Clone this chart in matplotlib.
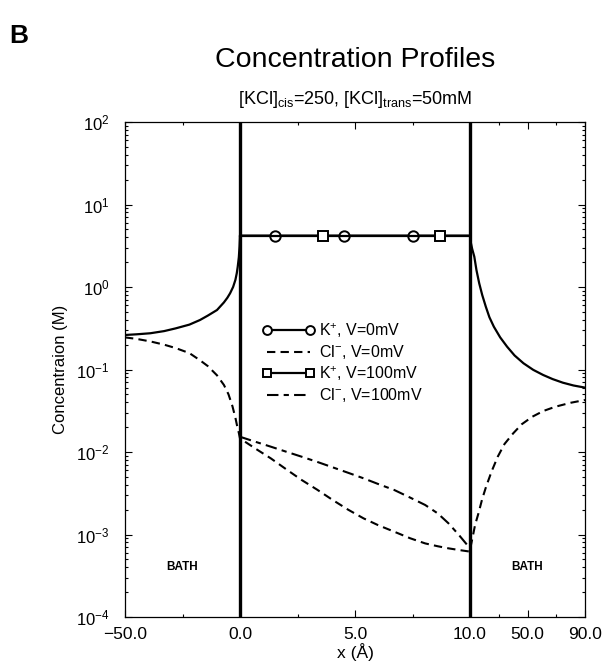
import numpy as np
import matplotlib
matplotlib.use('Agg')
import matplotlib.pyplot as plt
from matplotlib.ticker import FixedLocator, FixedFormatter, LogLocator

plt.rcParams['font.family'] = ['Liberation Sans', 'DejaVu Sans']
plt.rcParams['mathtext.fontset'] = 'custom'
plt.rcParams['mathtext.rm'] = 'Liberation Sans'
plt.rcParams['mathtext.it'] = 'Liberation Sans:italic'
plt.rcParams['mathtext.bf'] = 'Liberation Sans:bold'

# ---- data (x in Angstrom, concentration in M) ----
# K+ (V=0mV): left bath, channel (marker points), right bath
k_left_x = [-50, -45, -39, -33, -28, -22, -17.4, -14, -10, -7, -5.5, -4.3,
            -3, -2, -1.4, -1, -0.5, -0.2, 0]
k_left = [0.262, 0.267, 0.275, 0.292, 0.315, 0.35, 0.398, 0.45, 0.526, 0.65,
          0.74, 0.84, 1.0, 1.22, 1.47, 1.75, 2.3, 3.1, 4.2]
k0_chan_x = [1.5, 4.5, 7.5]
k_chan_level = 4.2
k_right_x = [10, 10.5, 11.5, 13, 14.5, 16.4, 18.5, 21, 23.5, 26.6, 31, 35.8,
             41, 47.2, 54, 60.9, 67.5, 74.6, 82, 90]
k_right = [4.2, 3.5, 2.9, 2.33, 1.6, 1.11, 0.8, 0.577, 0.43, 0.33, 0.245, 0.189,
           0.148, 0.119, 0.099, 0.0858, 0.0765, 0.0692, 0.064, 0.0603]

# K+ (V=100mV) inside channel
k100_x = [0, 3.6, 8.7, 10]

# Cl- (V=0mV)
cl_left_x = [-50, -45, -39, -33, -28, -22, -17.5, -14, -10, -7, -5, -3.3,
             -2, -1.3, -0.5, 0]
cl_left = [0.245, 0.235, 0.219, 0.2, 0.182, 0.158, 0.130, 0.11, 0.085, 0.065,
           0.05, 0.036, 0.026, 0.021, 0.017, 0.0146]
chan_x = [0, 0.67, 1.34, 2, 2.68, 3.35, 4.03, 4.7, 5.37, 6, 6.71, 7.4, 8.05,
          8.6, 9.06, 9.5, 10]
cl0_chan = [0.0146, 0.011, 0.00837, 0.0062, 0.00458, 0.0035, 0.00262, 0.002,
            0.00157, 0.0013, 0.00108, 0.0009, 0.00078, 0.00072, 0.00068,
            0.00065, 0.00062]
cl_right_x = [10, 10.5, 11.9, 13.5, 15.9, 18.5, 21.2, 25, 29.3, 34, 40, 46,
              53.4, 61, 69.4, 80, 90]
cl_right = [0.00062, 0.00072, 0.00094, 0.0013, 0.00181, 0.0027, 0.0038, 0.0058,
            0.00877, 0.0125, 0.0168, 0.0217, 0.0268, 0.0314, 0.0354, 0.0395,
            0.0427]

# Cl- (V=100mV) inside channel
cl100_chan = [0.0153, 0.0133, 0.0116, 0.0101, 0.00877, 0.0076, 0.00652, 0.0056,
              0.0048, 0.0041, 0.00346, 0.0028, 0.00228, 0.0018, 0.00137, 0.001,
              0.00068]

# axis breaks: bath | channel | bath
x_breaks = [-50, 0, 10, 90]
x_frac = [0, 1, 3, 4]
xtick_major = [-50, 0, 5, 10, 50, 90]
xtick_labels = ['\u221250.0', '0.0', '5.0', '10.0', '50.0', '90.0']
xtick_minor = [-25, 2.5, 7.5, 30, 70]


def fwd(x):
    return np.interp(x, x_breaks, x_frac)


def inv(u):
    return np.interp(u, x_frac, x_breaks)


fig = plt.figure(figsize=(6.06, 6.68), dpi=100)
ax = fig.add_axes([125 / 606, 1 - 617 / 668, 460 / 606, 495 / 668])
ax.set_xscale('function', functions=(fwd, inv))
ax.set_yscale('log')

# K+ V=0 : one continuous curve, markers only in the channel
k0_x = k_left_x + k0_chan_x + k_right_x
k0_y = k_left + [k_chan_level] * len(k0_chan_x) + k_right
n_left = len(k_left_x)
k0_line, = ax.plot(k0_x, k0_y, color='black', lw=1.6, marker='o', ms=7.5,
                   mfc='white', mew=1.4,
                   markevery=list(range(n_left, n_left + len(k0_chan_x))),
                   label='K$^{+}$, V=0mV')

k100_line, = ax.plot(k100_x, [k_chan_level] * len(k100_x), color='black', lw=1.6,
                     marker='s', ms=7, mfc='white', mew=1.4, markevery=[1, 2],
                     label='K$^{+}$, V=100mV')

# Cl- V=0 dashed
cl0_x = cl_left_x + chan_x[1:] + cl_right_x[1:]
cl0_y = cl_left + cl0_chan[1:] + cl_right[1:]
cl0_line, = ax.plot(cl0_x, cl0_y, color='black', lw=1.5, dashes=(4, 2.5),
                    label='Cl$^{-}$, V=0mV')

# Cl- V=100 dash-dot
cl100_line, = ax.plot(chan_x, cl100_chan, color='black', lw=1.5,
                      dashes=(5.5, 2.5, 2.5, 2.5), label='Cl$^{-}$, V=100mV')

# channel boundaries
ax.axvline(0, color='black', lw=2.4)
ax.axvline(10, color='black', lw=2.4)

ax.set_xlim(-50, 90)
ax.set_ylim(1e-4, 1e2)

ax.xaxis.set_major_locator(FixedLocator(xtick_major))
ax.xaxis.set_major_formatter(FixedFormatter(xtick_labels))
ax.xaxis.set_minor_locator(FixedLocator(xtick_minor))
ax.yaxis.set_major_locator(LogLocator(base=10, numticks=10))
ax.yaxis.set_minor_locator(LogLocator(base=10, subs=np.arange(2, 10), numticks=10))

ax.tick_params(which='both', direction='in', top=True, right=True, width=0.8)
ax.tick_params(which='major', length=5)
ax.tick_params(which='minor', length=2.5)
ax.tick_params(axis='x', labelsize=12.5, pad=7)
ax.tick_params(axis='y', labelsize=12, pad=11)
for sp in ax.spines.values():
    sp.set_linewidth(0.9)

ax.set_xlabel('x (\u00c5)', fontsize=12.5, labelpad=1)
ax.set_ylabel('Concentraion (M)', fontsize=12, labelpad=6)

ax.text(-25, 10 ** -3.39, 'BATH', ha='center', va='center', fontsize=8.5, weight='bold')
ax.text(50, 10 ** -3.39, 'BATH', ha='center', va='center', fontsize=8.5, weight='bold')

ax.legend(handles=[k0_line, cl0_line, k100_line, cl100_line],
          loc='upper left', bbox_to_anchor=(0.298, 0.597), frameon=False,
          fontsize=11.5, handlelength=3.3, handletextpad=0.25, labelspacing=0.2,
          borderpad=0, borderaxespad=0, numpoints=2, markerscale=0.85)

fig.text(355 / 606, 1 - 67 / 668, 'Concentration Profiles', ha='center',
         va='baseline', fontsize=20.5)
fig.text(355 / 606, 1 - 99 / 668,
         r'[KCl]$_{\rm cis}$=250, [KCl]$_{\rm trans}$=50mM',
         ha='center', va='center', fontsize=13)
fig.text(0.015, 1 - 24 / 668, 'B', ha='left', va='top', fontsize=19, weight='bold')

fig.savefig('out.png', dpi=100)
